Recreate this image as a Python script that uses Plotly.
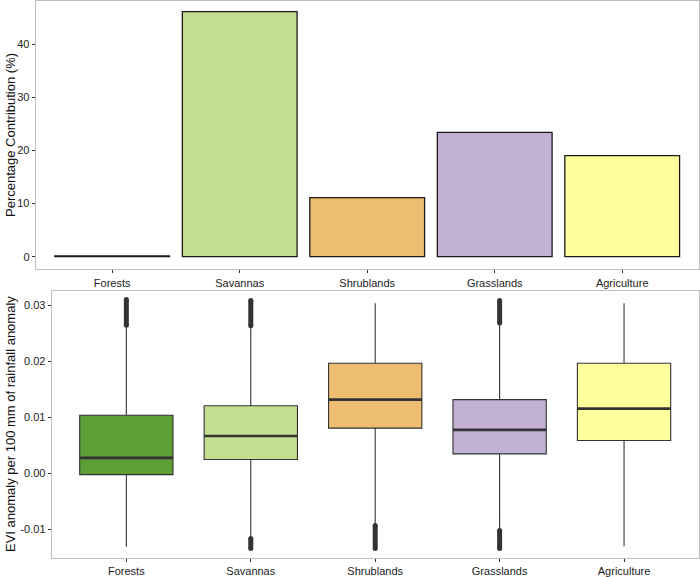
import plotly.graph_objects as go

# ---- data ----
categories = ["Forests", "Savannas", "Shrublands", "Grasslands", "Agriculture"]
colors = ["#5E9E37", "#C2DF8F", "#EDBD72", "#C3B1D4", "#FFFE9C"]

# top panel: percentage contribution (%)
contribution = [0.15, 46.1, 11.1, 23.4, 19.0]

# bottom panel: box statistics (EVI anomaly per 100 mm of rainfall anomaly)
q1 = [-0.0002, 0.0025, 0.0081, 0.0035, 0.0059]
median = [0.0028, 0.0067, 0.0132, 0.0078, 0.0116]
q3 = [0.0104, 0.0121, 0.0197, 0.0132, 0.0197]
lower_whisker = [-0.0131, -0.0116, -0.0093, -0.0102, -0.0130]
upper_whisker = [0.0265, 0.0264, 0.0304, 0.0269, 0.0304]
# dense outlier ranges (None = no outliers)
out_hi_lo = [0.0265, 0.0264, None, 0.0269, None]
out_hi_hi = [0.0311, 0.0309, None, 0.0309, None]
out_lo_hi = [None, -0.0116, -0.0093, -0.0102, None]
out_lo_lo = [None, -0.0134, -0.0134, -0.0134, None]

top_ticks = [0, 10, 20, 30, 40]
bottom_ticks = [-0.01, 0.00, 0.01, 0.02, 0.03]
bottom_ticktext = ["-0.01", "0.00", "0.01", "0.02", "0.03"]

W, H = 700, 577
FONT = "Liberation Sans, Arial, Helvetica, sans-serif"
DARK = "#333333"
xpos = list(range(len(categories)))

fig = go.Figure()

# bars
fig.add_trace(go.Bar(
    x=xpos, y=contribution, width=0.9,
    marker=dict(color=colors, line=dict(color="#1A1A1A", width=1.3)),
    xaxis="x", yaxis="y", showlegend=False, hoverinfo="skip"))

# boxes
for i, c in enumerate(categories):
    fig.add_trace(go.Box(
        x=[i], q1=[q1[i]], median=[median[i]], q3=[q3[i]],
        lowerfence=[lower_whisker[i]], upperfence=[upper_whisker[i]],
        width=0.75, whiskerwidth=0, fillcolor=colors[i],
        line=dict(color=DARK, width=1.1), boxpoints=False,
        xaxis="x2", yaxis="y2", showlegend=False, hoverinfo="skip"))
    # thicker median
    fig.add_trace(go.Scatter(
        x=[i - 0.375, i + 0.375], y=[median[i], median[i]], mode="lines",
        line=dict(color=DARK, width=2.6), xaxis="x2", yaxis="y2",
        showlegend=False, hoverinfo="skip"))
    # outlier clusters
    for lo, hi in ((out_hi_lo[i], out_hi_hi[i]), (out_lo_lo[i], out_lo_hi[i])):
        if lo is None:
            continue
        fig.add_trace(go.Scatter(
            x=[i, i], y=[lo, hi], mode="lines+markers",
            line=dict(color=DARK, width=5),
            marker=dict(color=DARK, size=5),
            xaxis="x2", yaxis="y2", showlegend=False, hoverinfo="skip"))

axis_common = dict(
    showgrid=False, zeroline=False, showline=True, mirror=True,
    linecolor="#BEBEBE", linewidth=1, ticks="outside", ticklen=3,
    tickcolor=DARK, tickwidth=1, automargin=False,
    tickfont=dict(family=FONT, size=11, color="#222222"))

fig.update_layout(
    template="none",
    width=W, height=H,
    margin=dict(l=0, r=0, t=0, b=0, pad=0),
    paper_bgcolor="white", plot_bgcolor="white",
    font=dict(family=FONT, color=DARK),
    xaxis=dict(domain=[35.7 / W, 698.7 / W], range=[-0.6, 4.6],
               tickvals=xpos, ticktext=categories, anchor="y", **axis_common),
    yaxis=dict(domain=[1 - 269.3 / H, 1 - 1 / H], range=[-2.37, 48.1],
               tickvals=top_ticks, anchor="x", **axis_common),
    xaxis2=dict(domain=[51.7 / W, 698.7 / W], range=[-0.6, 4.6],
                tickvals=xpos, ticktext=categories, anchor="y2", **axis_common),
    yaxis2=dict(domain=[1 - 558 / H, 1 - 290.5 / H], range=[-0.0151, 0.0327],
                tickvals=bottom_ticks, ticktext=bottom_ticktext, anchor="x2",
                **axis_common),
    annotations=[
        dict(text="Percentage Contribution (%)", textangle=-90,
             x=10 / W, y=1 - 135 / H, xref="paper", yref="paper",
             xanchor="center", yanchor="middle",
             showarrow=False, font=dict(family=FONT, size=13, color="#111111")),
        dict(text="EVI anomaly per 100 mm of rainfall anomaly", textangle=-90,
             x=10 / W, y=1 - 424 / H, xref="paper", yref="paper",
             xanchor="center", yanchor="middle",
             showarrow=False, font=dict(family=FONT, size=13, color="#111111")),
    ],
)

fig.write_html(
    "out.html",
    config={"displayModeBar": False, "staticPlot": True},
    post_script="document.body.style.margin='0';document.body.style.overflow='hidden';",
)
